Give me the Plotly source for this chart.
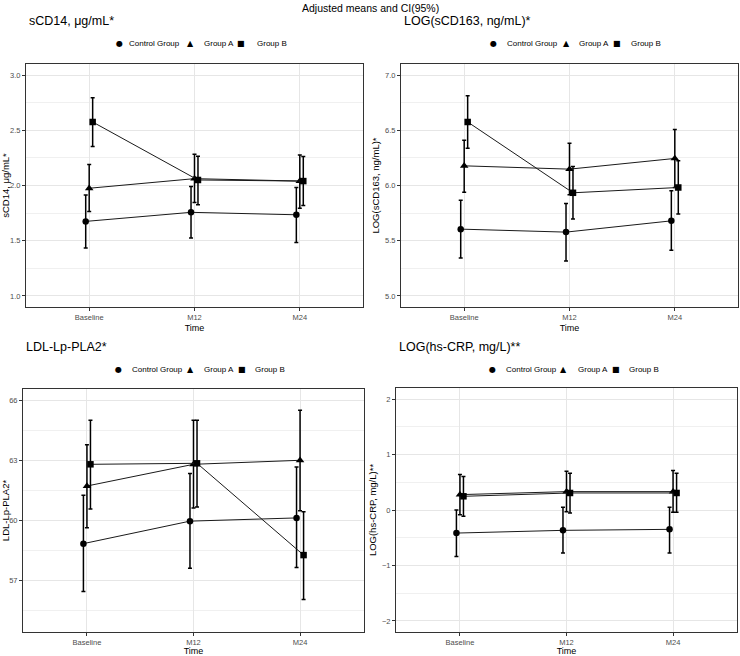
import plotly.graph_objects as go

W, H = 740, 656

times = ["Baseline", "M12", "M24"]
groups = ["Control Group", "Group A", "Group B"]
symbols = ["circle", "triangle-up", "square"]
msizes = [6.5, 7.5, 6.5]

# sCD14, ug/mL
scd14_mean = {"Control Group": [1.675, 1.757, 1.735],
              "Group A": [1.975, 2.062, 2.040],
              "Group B": [2.575, 2.050, 2.040]}
scd14_lo = {"Control Group": [1.434, 1.524, 1.485],
            "Group A": [1.765, 1.846, 1.795],
            "Group B": [2.352, 1.825, 1.820]}
scd14_hi = {"Control Group": [1.914, 1.990, 1.982],
            "Group A": [2.190, 2.283, 2.277],
            "Group B": [2.795, 2.265, 2.262]}

# LOG(sCD163)
scd163_mean = {"Control Group": [5.605, 5.578, 5.680],
               "Group A": [6.178, 6.148, 6.245],
               "Group B": [6.575, 5.934, 5.982]}
scd163_lo = {"Control Group": [5.343, 5.316, 5.413],
             "Group A": [5.940, 5.916, 5.982],
             "Group B": [6.337, 5.696, 5.741]}
scd163_hi = {"Control Group": [5.867, 5.837, 5.952],
             "Group A": [6.410, 6.383, 6.506],
             "Group B": [6.813, 6.172, 6.223]}

# LDL-Lp-PLA2
ldl_mean = {"Control Group": [58.85, 59.97, 60.13],
            "Group A": [61.72, 62.80, 63.00],
            "Group B": [62.80, 62.85, 58.28]}
ldl_lo = {"Control Group": [56.47, 57.62, 57.66],
          "Group A": [59.64, 60.62, 60.49],
          "Group B": [60.57, 60.67, 56.07]}
ldl_hi = {"Control Group": [61.26, 62.34, 62.67],
          "Group A": [63.77, 65.00, 65.49],
          "Group B": [65.00, 65.00, 60.44]}

# LOG(hs-CRP)
crp_mean = {"Control Group": [-0.416, -0.367, -0.349],
            "Group A": [0.277, 0.331, 0.331],
            "Group B": [0.247, 0.307, 0.307]}
crp_lo = {"Control Group": [-0.837, -0.777, -0.777],
          "Group A": [-0.084, -0.030, -0.042],
          "Group B": [-0.114, -0.054, -0.042]}
crp_hi = {"Control Group": [0.000, 0.048, 0.048],
          "Group A": [0.639, 0.699, 0.711],
          "Group B": [0.602, 0.663, 0.663]}

panels = [
    dict(title="sCD14, μg/mL*", ytitle="sCD14, μg/mL*", mean=scd14_mean, lo=scd14_lo, hi=scd14_hi,
         yrange=[0.9, 3.1], dtick=0.5, minor=0.25, fmt=".1f",
         box=(26, 363, 64, 307), title_y=21, legend_y=43,
         leg=(119, 127, 191, 202, 241, 255)),
    dict(title="LOG(sCD163, ng/mL)*", ytitle="LOG(sCD163, ng/mL)*", mean=scd163_mean, lo=scd163_lo, hi=scd163_hi,
         yrange=[4.9, 7.1], dtick=0.5, minor=0.25, fmt=".1f",
         box=(401, 738, 64, 307), title_y=21, legend_y=43,
         leg=(494, 505, 566, 577, 617, 629)),
    dict(title="LDL-Lp-PLA2*", ytitle="LDL-Lp-PLA2*", mean=ldl_mean, lo=ldl_lo, hi=ldl_hi,
         yrange=[54.45, 66.55], dtick=3, minor=1.5, fmt="d",
         box=(23, 364, 389, 632), title_y=347, legend_y=369,
         leg=(118, 130, 191, 202, 242, 253)),
    dict(title="LOG(hs-CRP, mg/L)**", ytitle="LOG(hs-CRP, mg/L)**", mean=crp_mean, lo=crp_lo, hi=crp_hi,
         yrange=[-2.2, 2.2], dtick=1, minor=0.5, fmt="d",
         box=(396, 737, 388, 632), title_y=347, legend_y=369,
         leg=(492, 504, 563, 576, 616, 627)),
]

FONT = "Liberation Sans, Arial, sans-serif"
dodge = [-0.033, 0.0, 0.033]

fig = go.Figure()
annotations = []

for i, p in enumerate(panels):
    sfx = "" if i == 0 else str(i + 1)
    xa, ya = "x" + sfx, "y" + sfx
    x0, x1, y0, y1 = p["box"]
    for g, grp in enumerate(groups):
        xs = [k + 1 + dodge[g] for k in range(len(times))]
        m = p["mean"][grp]
        lo = p["lo"][grp]
        hi = p["hi"][grp]
        fig.add_trace(go.Scatter(
            x=xs, y=m, mode="lines+markers", name=grp, showlegend=False,
            xaxis=xa, yaxis=ya,
            line=dict(color="#1a1a1a", width=1),
            marker=dict(symbol=symbols[g], size=msizes[g], color="black"),
            error_y=dict(type="data", symmetric=False,
                         array=[h - v for h, v in zip(hi, m)],
                         arrayminus=[v - l for v, l in zip(m, lo)],
                         color="black", thickness=1.5, width=2),
        ))
    axkw = dict(showline=True, mirror=True, linecolor="#333333", linewidth=1,
                showgrid=True, gridcolor="#e6e6e6", gridwidth=1, zeroline=False,
                ticks="outside", ticklen=3, tickcolor="#333333",
                tickfont=dict(family=FONT, size=7.5, color="#4d4d4d"),
                automargin=False)
    fig.layout["xaxis" + sfx] = dict(
        domain=[x0 / W, x1 / W], anchor=ya, range=[0.4, 3.6],
        tickvals=[1, 2, 3], ticktext=times,
        title=dict(text="Time", font=dict(family=FONT, size=9, color="black"), standoff=3),
        **axkw)
    fig.layout["yaxis" + sfx] = dict(
        domain=[1 - y1 / H, 1 - y0 / H], anchor=xa, range=p["yrange"],
        dtick=p["dtick"], tick0=0, tickformat=p["fmt"],
        minor=dict(dtick=p["minor"], tick0=0, showgrid=True, gridcolor="#f0f0f0", gridwidth=0.7),
        title=dict(text=p["ytitle"], font=dict(family=FONT, size=9.5, color="black"), standoff=3),
        **axkw)
    # panel title
    annotations.append(dict(text=p["title"], x=(x0 + 1) / W, y=1 - p["title_y"] / H,
                            xref="paper", yref="paper", xanchor="left", yanchor="middle",
                            showarrow=False, font=dict(family=FONT, size=12.5, color="black")))
    # legend (glyph + label)
    glyphs = ["●", "▲", "■"]
    lg = p["leg"]
    for g, grp in enumerate(groups):
        gx, tx = lg[2 * g], lg[2 * g + 1]
        annotations.append(dict(text=glyphs[g], x=gx / W, y=1 - p["legend_y"] / H,
                                xref="paper", yref="paper", xanchor="center", yanchor="middle",
                                showarrow=False, font=dict(family="DejaVu Sans", size=8, color="black")))
        annotations.append(dict(text=grp, x=tx / W, y=1 - p["legend_y"] / H,
                                xref="paper", yref="paper", xanchor="left", yanchor="middle",
                                showarrow=False, font=dict(family=FONT, size=8, color="black")))

annotations.append(dict(text="Adjusted means and CI(95%)", x=370 / W, y=1,
                        xref="paper", yref="paper", xanchor="center", yanchor="top",
                        showarrow=False, font=dict(family=FONT, size=10.5, color="black")))

fig.update_layout(
    width=W, height=H, template="none",
    margin=dict(l=0, r=0, t=0, b=0),
    paper_bgcolor="white", plot_bgcolor="white",
    showlegend=False,
    annotations=annotations,
    font=dict(family=FONT),
)

fig.write_html("out.html", config={"displayModeBar": False},
               post_script="document.body.style.margin='0';document.body.style.overflow='hidden';")
